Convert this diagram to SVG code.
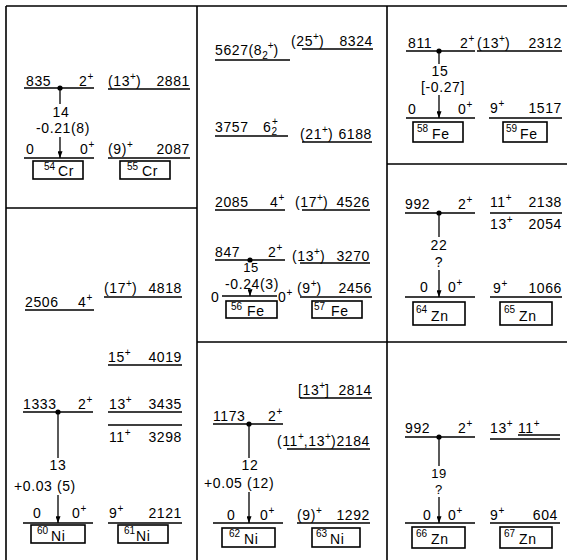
<svg xmlns="http://www.w3.org/2000/svg" width="572" height="560" viewBox="0 0 572 560">
<style>
text{font-family:"Liberation Sans",Arial,sans-serif;font-size:14px;letter-spacing:0.6px;fill:#000}
.m{text-anchor:middle}
.e{text-anchor:end}
.sp{font-size:10px;letter-spacing:0}
.a{font-size:10px;letter-spacing:0}
.sm{font-size:13px}
.frame{stroke:#000;stroke-width:1.6;fill:none}
.lv{stroke:#000;stroke-width:1.5;fill:none}
.bx{stroke:#000;stroke-width:1.6;fill:none}
.tr{stroke:#000;stroke-width:1.3;fill:none}
</style>
<defs>
<marker id="ah" viewBox="0 0 8 6" refX="8" refY="3" markerWidth="7" markerHeight="5" markerUnits="userSpaceOnUse" orient="auto">
<path d="M0,0 L8,3 L0,6 z" fill="#000"/>
</marker>
</defs>
<rect width="572" height="560" fill="#fff"/>
<path class="frame" d="M6 6 H567 M6 6 V560 M197 6 V560 M387 6 V560 M6 208 H197 M197 342 H387 M387 164 H567 M387 342 H567"/>

<g id="n54Cr">
<path class="lv" d="M24 88 H94 M24 158 H94"/>
<text x="26" y="86">835</text>
<text x="79" y="86">2<tspan class="sp" dy="-6">+</tspan></text>
<text x="26" y="154">0</text>
<text x="80" y="154">0<tspan class="sp" dy="-6">+</tspan></text>
<text class="m" x="61" y="117">14</text>
<text class="m" x="63" y="133">-0.21(8)</text>
<rect class="bx" x="33" y="161" width="50" height="18"/>
<text class="a" x="44" y="170">54</text><text x="58" y="176">Cr</text>
</g>
<g id="n55Cr">
<path class="lv" d="M108 89 H190 M108 158 H190"/>
<text x="108" y="86">(13<tspan class="sp" dy="-6">+</tspan><tspan dy="6">)</tspan></text>
<text class="e" x="190" y="86">2881</text>
<text x="108" y="154">(9)<tspan class="sp" dy="-6">+</tspan></text>
<text class="e" x="190" y="154">2087</text>
<rect class="bx" x="120" y="161" width="50" height="18"/>
<text class="a" x="127" y="170">55</text><text x="142" y="176">Cr</text>
</g>

<g id="n56Fe">
<path class="lv" d="M215 60 H290 M215 136 H288 M215 210 H285 M215 260 H285 M222 296 H277"/>
<text x="215" y="55">5627(8<tspan class="sp" dy="4">2</tspan><tspan class="sp" dy="-10">+</tspan><tspan dy="6">)</tspan></text>
<text x="215" y="132">3757</text>
<text x="263" y="132">6<tspan class="sp" dy="3">2</tspan><tspan class="sp" dy="-10" dx="-5">+</tspan></text>
<text x="215" y="207">2085</text>
<text x="270" y="207">4<tspan class="sp" dy="-6">+</tspan></text>
<text x="215" y="257">847</text>
<text x="268" y="257">2<tspan class="sp" dy="-6">+</tspan></text>
<text class="m sm" x="251" y="272">15</text>
<text class="m" x="252" y="289">-0.24(3)</text>
<text x="211" y="302">0</text>
<text x="278" y="302">0<tspan class="sp" dy="-6">+</tspan></text>
<rect class="bx" x="226" y="301" width="51" height="17"/>
<text class="a" x="231" y="310">56</text><text x="247" y="316">Fe</text>
</g>
<g id="n57Fe">
<path class="lv" d="M302 49 H373 M302 142 H372 M302 210 H370 M300 263 H370 M300 297 H372"/>
<text x="291" y="46">(25<tspan class="sp" dy="-6">+</tspan><tspan dy="6">)</tspan></text>
<text class="e" x="373" y="46">8324</text>
<text x="300" y="139">(21<tspan class="sp" dy="-6">+</tspan><tspan dy="6">)</tspan></text>
<text class="e" x="372" y="139">6188</text>
<text x="295" y="207">(17<tspan class="sp" dy="-6">+</tspan><tspan dy="6">)</tspan></text>
<text class="e" x="370" y="207">4526</text>
<text x="292" y="261">(13<tspan class="sp" dy="-6">+</tspan><tspan dy="6">)</tspan></text>
<text class="e" x="370" y="261">3270</text>
<text x="297" y="293">(9<tspan class="sp" dy="-6">+</tspan><tspan dy="6">)</tspan></text>
<text class="e" x="372" y="293">2456</text>
<rect class="bx" x="312" y="301" width="50" height="17"/>
<text class="a" x="314" y="310">57</text><text x="331" y="316">Fe</text>
</g>

<g id="n58Fe">
<path class="lv" d="M406 51 H475 M406 118 H475"/>
<text x="408" y="48">811</text>
<text x="460" y="48">2<tspan class="sp" dy="-6">+</tspan></text>
<text class="m" x="440" y="76">15</text>
<text class="m" x="443" y="92">[-0.27]</text>
<text x="408" y="114">0</text>
<text x="458" y="114">0<tspan class="sp" dy="-6">+</tspan></text>
<rect class="bx" x="413" y="122" width="50" height="20"/>
<text class="a" x="417" y="132">58</text><text x="432" y="139">Fe</text>
</g>
<g id="n59Fe">
<path class="lv" d="M477 51 H562 M489 118 H562"/>
<text x="477" y="48">(13<tspan class="sp" dy="-6">+</tspan><tspan dy="6">)</tspan></text>
<text class="e" x="562" y="48">2312</text>
<text x="490" y="113">9<tspan class="sp" dy="-6">+</tspan></text>
<text class="e" x="562" y="113">1517</text>
<rect class="bx" x="503" y="122" width="44" height="20"/>
<text class="a" x="506" y="132">59</text><text x="520" y="139">Fe</text>
</g>

<g id="n60Ni">
<path class="lv" d="M25 310 H94 M23 412 H93 M23 523 H93"/>
<text x="25" y="307">2506</text>
<text x="78" y="307">4<tspan class="sp" dy="-6">+</tspan></text>
<text x="23" y="409">1333</text>
<text x="78" y="409">2<tspan class="sp" dy="-6">+</tspan></text>
<text class="m" x="58" y="470">13</text>
<text x="14" y="491">+0.03 (5)</text>
<text x="33" y="518">0</text>
<text x="72" y="518">0<tspan class="sp" dy="-6">+</tspan></text>
<rect class="bx" x="31" y="525" width="54" height="18"/>
<text class="a" x="37" y="534">60</text><text x="51" y="541">Ni</text>
</g>
<g id="n61Ni">
<path class="lv" d="M104 297 H182 M108 365 H182 M108 412 H182 M108 425 H182 M108 523 H182"/>
<text x="104" y="293">(17<tspan class="sp" dy="-6">+</tspan><tspan dy="6">)</tspan></text>
<text class="e" x="182" y="293">4818</text>
<text x="108" y="362">15<tspan class="sp" dy="-6">+</tspan></text>
<text class="e" x="182" y="362">4019</text>
<text x="109" y="409">13<tspan class="sp" dy="-6">+</tspan></text>
<text class="e" x="182" y="409">3435</text>
<text x="109" y="442">11<tspan class="sp" dy="-6">+</tspan></text>
<text class="e" x="182" y="442">3298</text>
<text x="109" y="518">9<tspan class="sp" dy="-6">+</tspan></text>
<text class="e" x="182" y="518">2121</text>
<rect class="bx" x="118" y="525" width="50" height="18"/>
<text class="a" x="124" y="534">61</text><text x="136" y="541">Ni</text>
</g>

<g id="n62Ni">
<path class="lv" d="M213 424 H283 M213 523 H283"/>
<text x="213" y="421">1173</text>
<text x="268" y="421">2<tspan class="sp" dy="-6">+</tspan></text>
<text class="m" x="250" y="470">12</text>
<text x="204" y="488">+0.05 (12)</text>
<text x="227" y="520">0</text>
<text x="260" y="520">0<tspan class="sp" dy="-6">+</tspan></text>
<rect class="bx" x="222" y="528" width="53" height="19"/>
<text class="a" x="229" y="537">62</text><text x="244" y="544">Ni</text>
</g>
<g id="n63Ni">
<path class="lv" d="M300 398 H372 M287 449 H370 M297 523 H370"/>
<text x="298" y="395">[13<tspan class="sp" dy="-6">+</tspan><tspan dy="6">]</tspan></text>
<text class="e" x="372" y="395">2814</text>
<text x="277" y="446">(11<tspan class="sp" dy="-6">+</tspan><tspan dy="6">,13</tspan><tspan class="sp" dy="-6">+</tspan><tspan dy="6">)</tspan></text>
<text class="e" x="370" y="446">2184</text>
<text x="297" y="520">(9)<tspan class="sp" dy="-6">+</tspan></text>
<text class="e" x="370" y="520">1292</text>
<rect class="bx" x="312" y="528" width="48" height="19"/>
<text class="a" x="316" y="537">63</text><text x="330" y="544">Ni</text>
</g>

<g id="n64Zn">
<path class="lv" d="M405 213 H475 M405 297 H475"/>
<text x="405" y="209">992</text>
<text x="458" y="209">2<tspan class="sp" dy="-6">+</tspan></text>
<text class="m" x="439" y="250">22</text>
<text class="m" x="439" y="267">?</text>
<text x="420" y="292">0</text>
<text x="448" y="292">0<tspan class="sp" dy="-6">+</tspan></text>
<rect class="bx" x="413" y="302" width="52" height="23"/>
<text class="a" x="416" y="313">64</text><text x="431" y="321">Zn</text>
</g>
<g id="n65Zn">
<path class="lv" d="M490 213 H562 M490 297 H562"/>
<text x="490" y="207">11<tspan class="sp" dy="-6">+</tspan></text>
<text class="e" x="562" y="207">2138</text>
<text x="490" y="229">13<tspan class="sp" dy="-6">+</tspan></text>
<text class="e" x="562" y="229">2054</text>
<text x="493" y="293">9<tspan class="sp" dy="-6">+</tspan></text>
<text class="e" x="562" y="293">1066</text>
<rect class="bx" x="500" y="302" width="52" height="23"/>
<text class="a" x="504" y="313">65</text><text x="519" y="321">Zn</text>
</g>

<g id="n66Zn">
<path class="lv" d="M405 437 H475 M405 523 H475"/>
<text x="405" y="433">992</text>
<text x="458" y="433">2<tspan class="sp" dy="-6">+</tspan></text>
<text class="m sm" x="439" y="478">19</text>
<text class="m sm" x="439" y="494">?</text>
<text x="423" y="520">0</text>
<text x="448" y="520">0<tspan class="sp" dy="-6">+</tspan></text>
<rect class="bx" x="412" y="527" width="53" height="21"/>
<text class="a" x="416" y="537">66</text><text x="431" y="544">Zn</text>
</g>
<g id="n67Zn">
<path class="lv" d="M518 435 H560 M490 439 H560 M490 523 H560"/>
<text x="490" y="433">13<tspan class="sp" dy="-6">+</tspan></text>
<text x="518" y="433">11<tspan class="sp" dy="-6">+</tspan></text>
<text x="490" y="520">9<tspan class="sp" dy="-6">+</tspan></text>
<text class="e" x="558" y="520">604</text>
<rect class="bx" x="500" y="527" width="52" height="21"/>
<text class="a" x="504" y="537">67</text><text x="519" y="544">Zn</text>
</g>

<g id="connectors">
<path class="tr" d="M60 88 V104"/>
<path class="tr" d="M60 137 V158" marker-end="url(#ah)"/>
<path class="tr" d="M250 260 V262"/>
<path class="tr" d="M250 290 V296" marker-end="url(#ah)"/>
<path class="tr" d="M439 51 V64"/>
<path class="tr" d="M439 95 V118" marker-end="url(#ah)"/>
<path class="tr" d="M58 412 V458"/>
<path class="tr" d="M58 495 V523" marker-end="url(#ah)"/>
<path class="tr" d="M249 424 V458"/>
<path class="tr" d="M249 492 V523" marker-end="url(#ah)"/>
<path class="tr" d="M439 213 V237"/>
<path class="tr" d="M439 270 V297" marker-end="url(#ah)"/>
<path class="tr" d="M439 437 V466"/>
<path class="tr" d="M439 497 V523" marker-end="url(#ah)"/>
<circle cx="60" cy="88" r="2.6"/>
<circle cx="250" cy="260" r="2.6"/>
<circle cx="439" cy="51" r="2.6"/>
<circle cx="58" cy="412" r="2.6"/>
<circle cx="249" cy="424" r="2.6"/>
<circle cx="439" cy="213" r="2.6"/>
<circle cx="439" cy="437" r="2.6"/>
</g>
</svg>
